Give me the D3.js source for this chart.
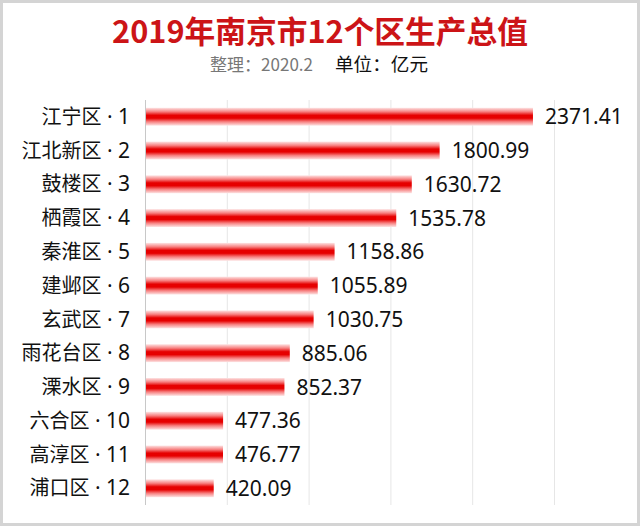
<!DOCTYPE html>
<html><head><meta charset="utf-8">
<script src="https://cdn.jsdelivr.net/npm/d3@7"></script>
<style>body{margin:0;background:#fff}svg{display:block}</style>
</head><body>
<svg id="c" width="640" height="527"></svg>
<script>
const districts = ["江宁区","江北新区","鼓楼区","栖霞区","秦淮区","建邺区","玄武区","雨花台区","溧水区","六合区","高淳区","浦口区"];
const ranks = [1,2,3,4,5,6,7,8,9,10,11,12];
const values = [2371.41,1800.99,1630.72,1535.78,1158.86,1055.89,1030.75,885.06,852.37,477.36,476.77,420.09];
const gridTicks = [0,500,1000,1500,2000,2500];
const title = "2019年南京市12个区生产总值";
const subNote = "整理：2020.2";
const subUnit = "单位：亿元";

const svg = d3.select("#c");
const font = "'Noto Sans CJK SC','Noto Sans',sans-serif";
const latin = "'Noto Sans','Open Sans',sans-serif";

// frame
svg.append("rect").attr("x",1.5).attr("y",1.5).attr("width",637).attr("height",523)
  .attr("fill","#fff").attr("stroke","#d4d4d4").attr("stroke-width",3);

const defs = svg.append("defs");
const g = defs.append("linearGradient").attr("id","bar").attr("x1",0).attr("y1",0).attr("x2",0).attr("y2",1);
[[0,"#fde4e4"],[0.22,"#f78080"],[0.42,"#e60000"],[0.58,"#e60000"],[0.78,"#f78080"],[1,"#fde4e4"]]
  .forEach(([o,c])=>g.append("stop").attr("offset",o).attr("stop-color",c));

const x = d3.scaleLinear().domain([0,2500]).range([145,554]);
const y = d3.scaleBand().domain(districts).range([100,505]).paddingInner(0.47).paddingOuter(0.23);

// grid
svg.append("g").selectAll("line").data(gridTicks).join("line")
  .attr("x1",d=>x(d)+0.5).attr("x2",d=>x(d)+0.5).attr("y1",100).attr("y2",505)
  .attr("stroke",d=>d===0?"#c8c8c8":"#e6e6e6").attr("stroke-width",1);

// bars
svg.append("g").selectAll("rect").data(values).join("rect")
  .attr("x",x(0)+1).attr("y",(d,i)=>y(districts[i]))
  .attr("width",d=>x(d)-x(0)-1).attr("height",y.bandwidth())
  .attr("fill","url(#bar)");

// category labels
const lab = svg.append("g").selectAll("text").data(districts).join("text")
  .attr("x",130).attr("y",d=>y(d)+y.bandwidth()/2).attr("dy","0.36em")
  .attr("text-anchor","end").attr("font-family",font).attr("font-size",20).attr("fill","#111");
lab.append("tspan").text(d=>d);
lab.append("tspan").attr("font-family",latin).attr("font-size",21).text((d,i)=>" · "+ranks[i]);

// value labels
svg.append("g").selectAll("text").data(values).join("text")
  .attr("x",d=>x(d)+12).attr("y",(d,i)=>y(districts[i])+y.bandwidth()/2).attr("dy","0.36em")
  .attr("font-family",latin).attr("font-size",21).attr("fill","#111")
  .text(d=>d.toFixed(2));

// title
svg.append("text").attr("x",320).attr("y",43).attr("text-anchor","middle")
  .attr("font-family",font).attr("font-size",31).attr("font-weight","bold").attr("fill","#cc1417")
  .attr("textLength",416).attr("lengthAdjust","spacingAndGlyphs").text(title);
svg.append("text").attr("x",210).attr("y",71)
  .attr("font-family",font).attr("font-size",17).attr("fill","#777")
  .attr("textLength",103).attr("lengthAdjust","spacingAndGlyphs").text(subNote);
svg.append("text").attr("x",335).attr("y",71)
  .attr("font-family",font).attr("font-size",18.5).attr("fill","#111")
  .attr("textLength",93).attr("lengthAdjust","spacingAndGlyphs").text(subUnit);
</script>
</body></html>
